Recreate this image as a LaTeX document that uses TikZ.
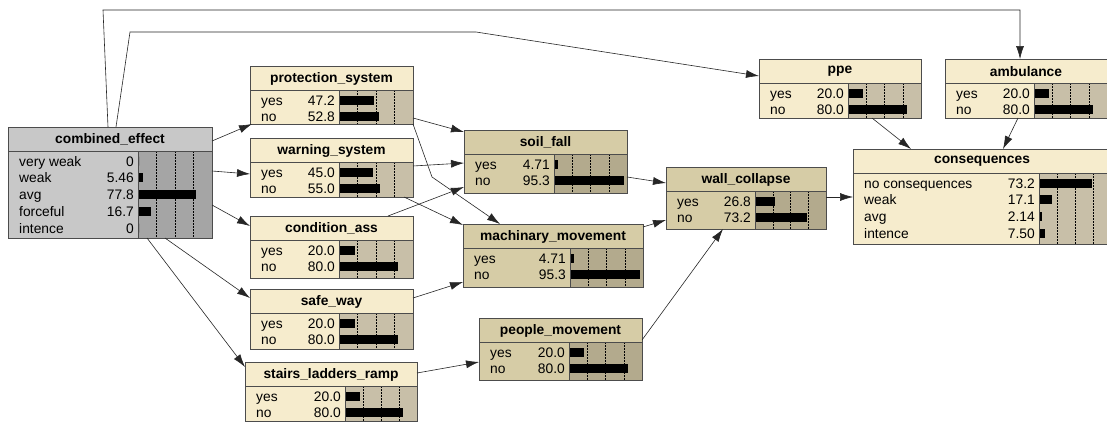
\documentclass[tikz,border=0pt]{standalone}
\usepackage{fontspec}
\setmainfont{Liberation Sans}
\usetikzlibrary{arrows.meta}

\definecolor{crtop}{HTML}{F6ECCD}
\definecolor{crbar}{HTML}{C8BFA8}
\definecolor{tntop}{HTML}{D6CCA6}
\definecolor{tnbar}{HTML}{B3AA8D}
\definecolor{gytop}{HTML}{C8C8C8}
\definecolor{gybar}{HTML}{A5A5A5}

\tikzset{
  bnbox/.style={draw=black!70, line width=0.8pt, inner sep=0pt, outer sep=0pt},
  bnframe/.style={draw=black!70, line width=0.8pt},
  bntitle/.style={font=\fontsize{13.8}{16}\selectfont\bfseries, inner sep=0pt},
  bnstate/.style={inner sep=0pt},
  gridline/.style={black, line width=0.5pt, dash pattern=on 1.5pt off 1.5pt},
  link/.style={draw=black!85, line width=0.6pt, -{Latex[length=13pt,width=8pt]}}
}

% #1 name, #2 left, #3 top, #4 right, #5 split, #6 bottom, #7 colours, #8 title, #9 states
\newcommand{\bnnode}[9]{%
  \fill[#7top] (#2,#3) rectangle (#4,#6);
  \fill[#7bar] (#5,#3+24) rectangle (#4,#6);
  \foreach \f in {0.25,0.5,0.75}
    \draw[gridline] ({#5+\f*(#4-#5)},#3+24) -- ({#5+\f*(#4-#5)},#6);
  \foreach \lab/\val [count=\i] in {#9} {
    \pgfmathsetmacro{\yc}{#3+24+10+16.8*(\i-1)}
    \node[bnstate, anchor=base west] at (#2+11,\yc+5) {\lab};
    \node[bnstate, anchor=base east] at (#5-4,\yc+5) {\val};
    \fill (#5+1,\yc-4.5) rectangle ({#5+1+\val/100*(#4-#5-1)},\yc+4.5);
  }
  \draw[bnframe] (#2,#3+24) -- (#4,#3+24) (#5,#3+24) -- (#5,#6);
  \node[bntitle] at ({(#2+#4)/2},#3+12.5) {#8};
  \node[bnbox, minimum width={(#4-#2)*1pt}, minimum height={(#6-#3)*1pt},
        anchor=north west] (#1) at (#2,#3) {};
}

\begin{document}
\begin{tikzpicture}[x=1pt, y=-1pt, font=\fontsize{13.8}{16}\selectfont]
  \useasboundingbox[fill=white] (0,0) rectangle (1107,423);

  % nodes
  \bnnode{comb}{8}{127}{212}{138}{238}{gy}{combined\_effect}{very weak/0, weak/5.46, avg/77.8, forceful/16.7, intence/0}
  \bnnode{prot}{250}{66}{413}{339}{124}{cr}{protection\_system}{yes/47.2, no/52.8}
  \bnnode{warn}{250}{138}{413}{339}{197}{cr}{warning\_system}{yes/45.0, no/55.0}
  \bnnode{cond}{250}{216}{413}{339}{278}{cr}{condition\_ass}{yes/20.0, no/80.0}
  \bnnode{safe}{250}{289}{413}{339}{349}{cr}{safe\_way}{yes/20.0, no/80.0}
  \bnnode{stairs}{245}{362}{417}{345}{421}{cr}{stairs\_ladders\_ramp}{yes/20.0, no/80.0}
  \bnnode{soil}{464}{130}{627}{554}{193}{tn}{soil\_fall}{yes/4.71, no/95.3}
  \bnnode{mach}{463}{224}{643}{570}{287}{tn}{machinary\_movement}{yes/4.71, no/95.3}
  \bnnode{wall}{666}{167}{826}{755}{229}{tn}{wall\_collapse}{yes/26.8, no/73.2}
  \bnnode{people}{479}{318}{642}{569}{380}{tn}{people\_movement}{yes/20.0, no/80.0}
  \bnnode{ppe}{759}{59}{921}{848}{118}{cr}{ppe}{yes/20.0, no/80.0}
  \bnnode{amb}{945}{59}{1107}{1034}{118}{cr}{ambulance}{yes/20.0, no/80.0}
  \bnnode{cons}{853}{149}{1111}{1039}{244}{cr}{consequences}{no consequences/73.2, weak/17.1, avg/2.14, intence/7.50}

  % bends of the long links
  \coordinate (topA) at (103,10);
  \coordinate (topB) at (130,32);
  \coordinate (topC) at (476,32);
  \coordinate (bendP) at (432,177);

  % links
  \draw[link] ([xshift=100]comb.north west) -- (topA) -| ([xshift=75]amb.north west);
  \draw[link] ([xshift=108]comb.north west) -- (topB) -- (topC) -- ([yshift=-17]ppe.north west);
  \draw[link] ([yshift=-14]comb.north east) -- ([xshift=2]prot.south west);
  \draw[link] ([yshift=-44]comb.north east) -- ([yshift=-36]warn.north west);
  \draw[link] ([yshift=-78]comb.north east) -- ([yshift=-10]cond.north west);
  \draw[link] ([xshift=157]comb.south west) -- ([yshift=-9]safe.north west);
  \draw[link] ([xshift=139]comb.south west) -- ([yshift=-5]stairs.north west);
  \draw[link] ([yshift=6]prot.south east) -- ([yshift=-2]soil.north west);
  \draw[link] (prot.south east) -- (bendP) -- ([xshift=37]mach.north west);
  \draw[link] ([yshift=-28]warn.north east) -- ([yshift=-33]soil.north west);
  \draw[link] ([xshift=-9]warn.south east) -- ([yshift=-1]mach.north west);
  \draw[link] ([xshift=138]cond.north west) -- ([yshift=6]soil.south west);
  \draw[link] ([yshift=-9]safe.north east) -- ([yshift=5]mach.south west);
  \draw[link] ([yshift=-11]stairs.north east) -- ([yshift=-44]people.north west);
  \draw[link] ([yshift=-47]soil.north east) -- ([yshift=-16]wall.north west);
  \draw[link] ([yshift=-3]mach.north east) -- ([yshift=-53]wall.north west);
  \draw[link] ([yshift=-22]people.north east) -- ([xshift=57]wall.south west);
  \draw[link] ([yshift=-30]wall.north east) -- ([yshift=-48]cons.north west);
  \draw[link] ([xshift=113]ppe.south west) -- ([xshift=58]cons.north west);
  \draw[link] ([xshift=73]amb.south west) -- ([xshift=150]cons.north west);
\end{tikzpicture}
\end{document}
